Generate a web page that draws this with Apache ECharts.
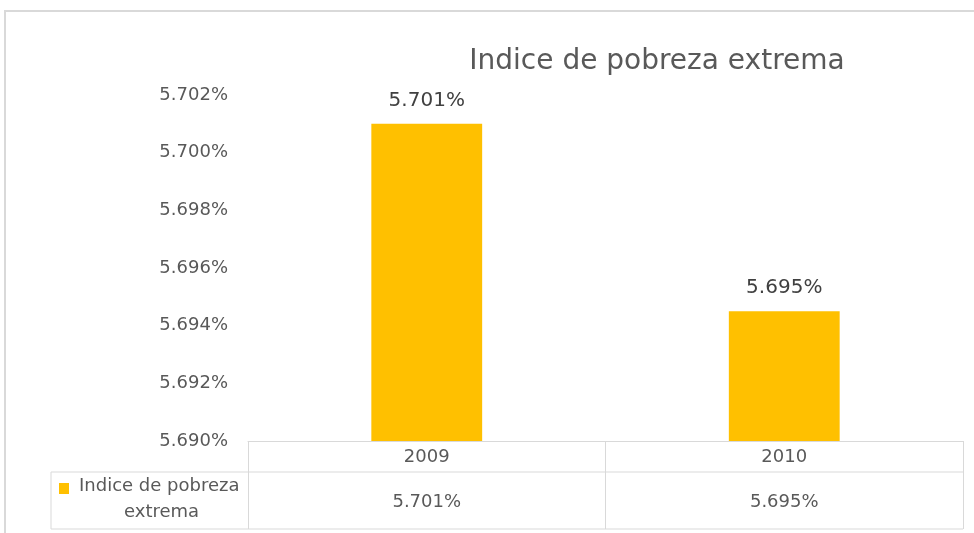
<!DOCTYPE html>
<html>
<head>
<meta charset="utf-8">
<script src="https://cdn.jsdelivr.net/npm/echarts@6/dist/echarts.min.js"></script>
<style>html,body{margin:0;padding:0;background:#fff}#c{width:974px;height:533px}</style>
</head>
<body>
<div id="c"></div>
<script>
const categories = ['2009', '2010'];
const values = [5.701, 5.6945];
const seriesName = 'Indice de pobreza extrema';
const yMin = 5.690, yMax = 5.702, yInterval = 0.002;

const barColor = '#FFC000';
const textColor = '#595959';
const lineColor = '#d9d9d9';
const font = 'DejaVu Sans';
const fmt = v => (v + 1e-9).toFixed(3) + '%';

const chart = echarts.init(document.getElementById('c'));
chart.setOption({
  animation: false,
  backgroundColor: '#fff',
  title: {
    text: seriesName,
    left: 652, top: 43, textAlign: 'center',
    textStyle: { fontFamily: 'DejaVu Sans', fontWeight: 'normal', fontSize: 28, color: textColor }
  },
  grid: { left: 248, right: 11, top: 95, bottom: 92 },
  xAxis: [{
    type: 'category', data: categories,
    axisLine: { show: true, lineStyle: { color: lineColor, width: 1 } },
    axisTick: { show: true, length: 88, lineStyle: { color: lineColor, width: 1 } },
    axisLabel: { margin: 7, fontFamily: font, fontSize: 18, color: textColor }
  }, {
    type: 'category', data: categories, position: 'bottom',
    axisLine: { show: false }, axisTick: { show: false },
    axisLabel: { margin: 52, fontFamily: font, fontSize: 18, color: textColor,
      formatter: (v, i) => fmt(values[i]) }
  }],
  yAxis: {
    type: 'value', min: yMin, max: yMax, interval: yInterval,
    axisLine: { show: false }, axisTick: { show: false }, splitLine: { show: false },
    axisLabel: { margin: 20, fontFamily: font, fontSize: 18, color: textColor,
      formatter: v => v.toFixed(3) + '%' }
  },
  series: [{
    name: seriesName, type: 'bar', data: values, barWidth: '31%',
    itemStyle: { color: barColor },
    label: { show: true, position: 'top', distance: 13, fontFamily: font, fontSize: 20, color: '#404040',
      formatter: p => fmt(p.value) }
  }],
  graphic: [
    { type: 'rect', shape: { x: 5, y: 11, width: 1000, height: 600 }, style: { fill: null, stroke: lineColor, lineWidth: 2 }, silent: true },
    { type: 'line', shape: { x1: 51, y1: 472, x2: 963, y2: 472 }, style: { stroke: lineColor, lineWidth: 1 } },
    { type: 'line', shape: { x1: 51, y1: 529, x2: 963, y2: 529 }, style: { stroke: lineColor, lineWidth: 1 } },
    { type: 'line', shape: { x1: 51, y1: 472, x2: 51, y2: 529 }, style: { stroke: lineColor, lineWidth: 1 } },
    { type: 'rect', shape: { x: 59, y: 483, width: 10, height: 11 }, style: { fill: barColor } },
    { type: 'text', left: 79, top: 477, style: { text: 'Indice de pobreza', font: '18px "DejaVu Sans"', fill: textColor } },
    { type: 'text', left: 124, top: 503, style: { text: 'extrema', font: '18px "DejaVu Sans"', fill: textColor } }
  ]
});
</script>
</body>
</html>
